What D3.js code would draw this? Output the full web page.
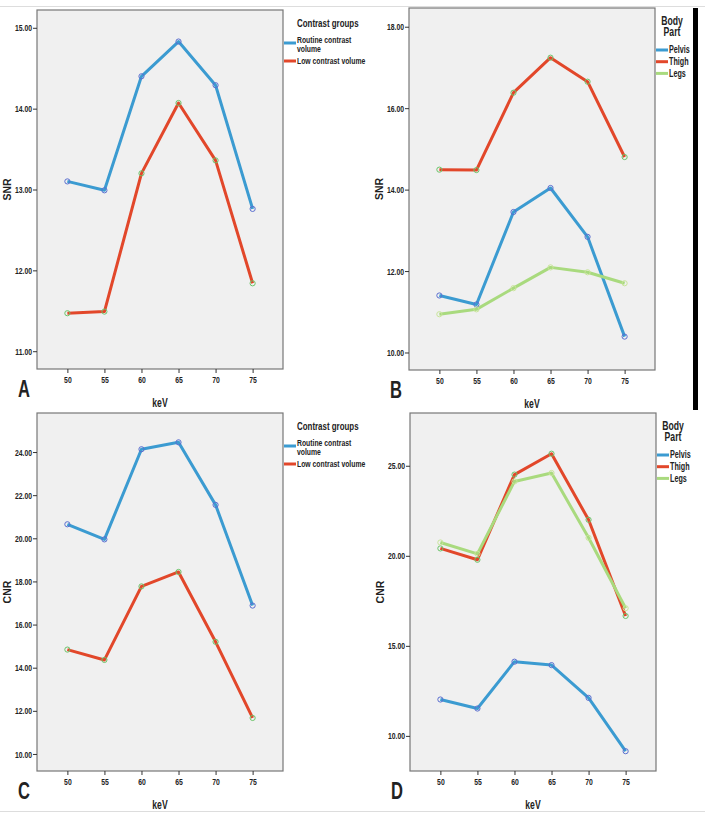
<!DOCTYPE html>
<html>
<head>
<meta charset="utf-8">
<script src="https://cdn.jsdelivr.net/npm/d3@7/dist/d3.min.js"></script>
<style>
  body { margin: 0; background: #fff; }
  svg { display: block; }
  .narrow { font-family: "Liberation Sans", Arial, sans-serif; font-weight: bold; fill: #222; }
</style>
</head>
<body>
<svg id="chart"></svg>
<script>
// keV levels shared by every panel
const kev = [50, 55, 60, 65, 70, 75];

// A: SNR by contrast group
const snrRoutine = [13.10, 12.99, 14.40, 14.83, 14.29, 12.76];
const snrLow = [11.47, 11.49, 13.20, 14.07, 13.36, 11.84];
const snrTicksA = [11, 12, 13, 14, 15];

// B: SNR by body part
const snrPelvis = [11.40, 11.18, 13.45, 14.04, 12.84, 10.39];
const snrThigh = [14.49, 14.48, 16.38, 17.24, 16.65, 14.80];
const snrLegs = [10.94, 11.06, 11.58, 12.09, 11.97, 11.70];
const snrTicksB = [10, 12, 14, 16, 18];

// C: CNR by contrast group
const cnrRoutine = [20.65, 19.95, 24.13, 24.45, 21.55, 16.88];
const cnrLow = [14.84, 14.36, 17.77, 18.44, 15.20, 11.67];
const cnrTicksC = [10, 12, 14, 16, 18, 20, 22, 24];

// D: CNR by body part
const cnrPelvis = [12.02, 11.52, 14.12, 13.93, 12.11, 9.15];
const cnrThigh = [20.41, 19.78, 24.51, 25.67, 22.00, 16.66];
const cnrLegs = [20.74, 20.11, 24.13, 24.60, 21.00, 17.09];
const cnrTicksD = [10, 15, 20, 25];

const groupNames = ['Routine contrast volume', 'Low contrast volume'];
const partNames = ['Pelvis', 'Thigh', 'Legs'];

const blue = '#3b9bd1', red = '#e2472a', green = '#a9da7e';
const squeeze = 0.72; // no narrow font installed, so squash Liberation Sans

const svg = d3.select('#chart').attr('width', 705).attr('height', 813);

// thin rules framing the figure
svg.append('line').attr('x1', 0).attr('x2', 705).attr('y1', 6.5).attr('y2', 6.5).attr('stroke', '#ddd');
svg.append('line').attr('x1', 0).attr('x2', 705).attr('y1', 811.5).attr('y2', 811.5).attr('stroke', '#ddd');
svg.append('rect').attr('x', 693).attr('y', 8).attr('width', 5).attr('height', 402).attr('fill', '#000');

function narrowText(parent, x, y, str, size, anchor = 'start') {
    return parent.append('text').attr('class', 'narrow')
        .attr('x', x / squeeze).attr('y', y)
        .attr('transform', `scale(${squeeze},1)`)
        .attr('text-anchor', anchor).attr('font-size', size).text(str);
}

function condenseTicks(axisG) {
    axisG.selectAll('text')
        .attr('class', 'narrow').attr('font-size', 9.5).attr('font-family', null)
        .attr('x', function () { return (+d3.select(this).attr('x') || 0) / squeeze; })
        .attr('transform', `scale(${squeeze},1)`);
}

function panel(opts) {
    const g = svg.append('g');
    const x = d3.scalePoint().domain(kev).range([opts.left, opts.right]).padding(0.82);
    const y = d3.scaleLinear().domain(opts.domain).range([opts.bottom, opts.top]);

    g.append('rect')
        .attr('x', opts.left).attr('y', opts.top)
        .attr('width', opts.right - opts.left).attr('height', opts.bottom - opts.top)
        .attr('fill', '#f0f0f0').attr('stroke', '#777').attr('stroke-width', 1.2);

    g.append('g')
        .attr('transform', `translate(0,${opts.bottom})`)
        .call(d3.axisBottom(x).tickSize(4).tickPadding(3))
        .call(a => a.select('.domain').remove())
        .call(a => a.selectAll('line').attr('stroke', '#333'))
        .call(condenseTicks);

    g.append('g')
        .attr('transform', `translate(${opts.left},0)`)
        .call(d3.axisLeft(y).tickValues(opts.ticks).tickFormat(d3.format('.2f')).tickSize(4).tickPadding(1))
        .call(a => a.select('.domain').remove())
        .call(a => a.selectAll('line').attr('stroke', '#333'))
        .call(condenseTicks);

    const line = d3.line().x((d, i) => x(kev[i])).y(d => y(d));
    opts.series.forEach(s => {
        g.append('path').datum(s.values)
            .attr('d', line).attr('fill', 'none')
            .attr('stroke', s.color).attr('stroke-width', 3).attr('stroke-linejoin', 'round');
    });
    opts.series.forEach(s => {
        g.selectAll(null).data(s.values).enter().append('circle')
            .attr('cx', (d, i) => x(kev[i])).attr('cy', d => y(d)).attr('r', 2.6)
            .attr('fill', 'none').attr('stroke', s.marker).attr('stroke-width', 1);
    });

    const mid = (opts.left + opts.right) / 2;
    narrowText(g, mid, opts.bottom + 38, 'keV', 12, 'middle');
    g.append('text')
        .attr('transform', `translate(${opts.left - 26},${(opts.top + opts.bottom) / 2}) rotate(-90)`)
        .attr('text-anchor', 'middle').attr('font-family', 'Liberation Sans, Arial, sans-serif')
        .attr('font-weight', 'bold').attr('font-size', 10.5).attr('fill', '#222').text(opts.ylabel);
    narrowText(g, opts.left - 19, opts.bottom + 28, opts.letter, 23).attr('fill', '#000');

    // legend
    const lg = g.append('g').attr('transform', `translate(${opts.right},${opts.top})`);
    if (opts.series.length === 2) {
        narrowText(lg, 14, 17, 'Contrast groups', 11);
        narrowText(lg, 14, 33, 'Routine contrast', 9.5);
        narrowText(lg, 14, 42, 'volume', 9.5);
        narrowText(lg, 14, 54.5, 'Low contrast volume', 9.5);
        [33, 51].forEach((yy, i) => {
            lg.append('line').attr('x1', 1).attr('x2', 13).attr('y1', yy).attr('y2', yy)
                .attr('stroke', opts.series[i].color).attr('stroke-width', 3);
        });
    } else {
        narrowText(lg, 17, 17, 'Body', 12, 'middle');
        narrowText(lg, 17, 28, 'Part', 12, 'middle');
        opts.series.forEach((s, i) => {
            const yy = 42 + i * 11.7;
            lg.append('line').attr('x1', 1).attr('x2', 13).attr('y1', yy).attr('y2', yy)
                .attr('stroke', s.color).attr('stroke-width', 3);
            narrowText(lg, 14, yy + 3.5, partNames[i], 10);
        });
    }
}

panel({
    letter: 'A', ylabel: 'SNR', left: 37, right: 283, top: 10, bottom: 369,
    domain: [10.78, 15.22], ticks: snrTicksA,
    series: [
        {values: snrRoutine, color: blue, marker: '#5a6fd0'},
        {values: snrLow, color: red, marker: '#6cc46a'}
    ]
});
panel({
    letter: 'B', ylabel: 'SNR', left: 409, right: 655, top: 8, bottom: 370,
    domain: [9.57, 18.46], ticks: snrTicksB,
    series: [
        {values: snrPelvis, color: blue, marker: '#5a6fd0'},
        {values: snrThigh, color: red, marker: '#6cc46a'},
        {values: snrLegs, color: green, marker: '#c9e59a'}
    ]
});
panel({
    letter: 'C', ylabel: 'CNR', left: 37, right: 283, top: 413, bottom: 771,
    domain: [9.21, 25.81], ticks: cnrTicksC,
    series: [
        {values: cnrRoutine, color: blue, marker: '#5a6fd0'},
        {values: cnrLow, color: red, marker: '#6cc46a'}
    ]
});
panel({
    letter: 'D', ylabel: 'CNR', left: 410, right: 656, top: 413, bottom: 771,
    domain: [8.05, 27.93], ticks: cnrTicksD,
    series: [
        {values: cnrPelvis, color: blue, marker: '#5a6fd0'},
        {values: cnrThigh, color: red, marker: '#6cc46a'},
        {values: cnrLegs, color: green, marker: '#c9e59a'}
    ]
});
</script>
</body>
</html>
